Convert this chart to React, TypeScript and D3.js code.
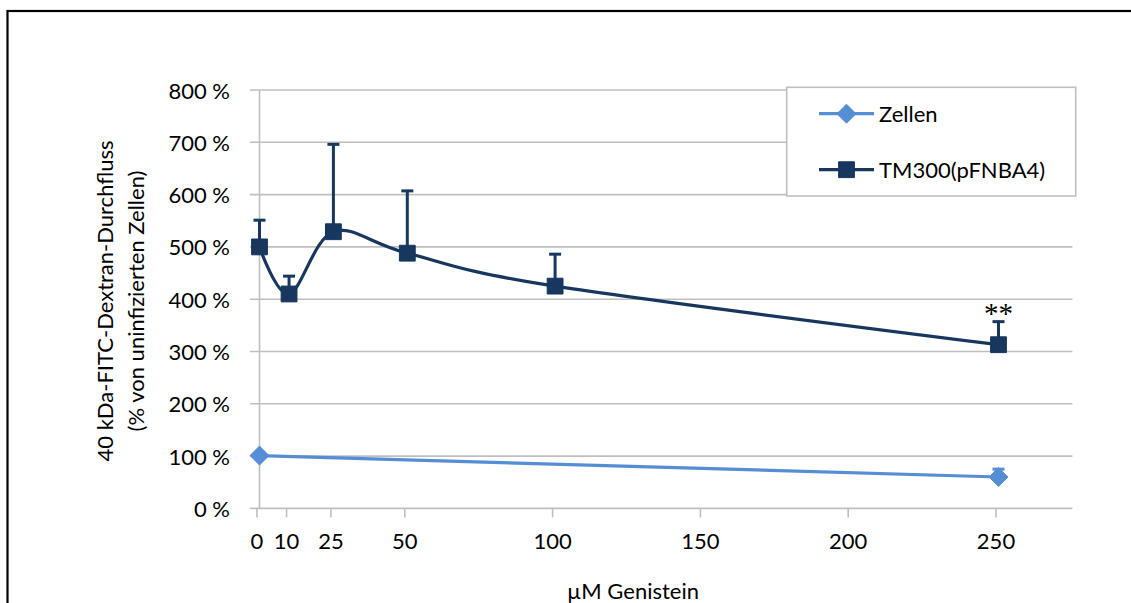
import { useEffect, useRef } from 'react';
import * as d3 from 'd3';

// concentrations (µM Genistein)
const tmDose = [0, 10, 25, 50, 100, 250];
const tmMean = [500, 410, 529, 488, 425, 313];
const tmErr = [53, 36, 169, 121, 63, 46];

const zDose = [0, 250];
const zMean = [101, 60];
const zErr = [4, 17];

const xTicks = [0, 10, 25, 50, 100, 150, 200, 250];
const yTicks = [0, 100, 200, 300, 400, 500, 600, 700, 800];

const series = [
  { name: 'Zellen', color: '#558ed5', shape: 'diamond', dose: zDose, mean: zMean, err: zErr, smooth: false },
  { name: 'TM300(pFNBA4)', color: '#17375e', shape: 'square', dose: tmDose, mean: tmMean, err: tmErr, smooth: true },
];

const FONT = 'Lato, "Open Sans", sans-serif';

function markerPath(shape: string) {
  return shape === 'square'
    ? d3.symbol(d3.symbolSquare, 250)()
    : d3.symbol(d3.symbolDiamond2, 230)();
}

function App() {
  const ref = useRef<SVGSVGElement | null>(null);

  useEffect(() => {
    const svg = d3.select(ref.current);
    svg.selectAll('*').remove();

    const x = d3.scaleLinear().domain([0, 250]).range([259.5, 998.5]);
    const y = d3.scaleLinear().domain([0, 800]).range([508.4, 90]);
    const xEnd = x(275);
    const grid = '#bfbfbf';

    // outer frame
    svg.append('rect')
      .attr('x', 7.5).attr('y', 11)
      .attr('width', 1140).attr('height', 620)
      .attr('fill', 'none').attr('stroke', '#000').attr('stroke-width', 2.2);

    // horizontal gridlines (+ y ticks)
    svg.append('g').selectAll('line').data(yTicks).join('line')
      .attr('x1', x(0) - 9.5).attr('x2', xEnd)
      .attr('y1', d => y(d)).attr('y2', d => y(d))
      .attr('stroke', grid).attr('stroke-width', 1.6);

    // y axis line
    svg.append('line')
      .attr('x1', x(0)).attr('x2', x(0))
      .attr('y1', y(800)).attr('y2', y(0))
      .attr('stroke', grid).attr('stroke-width', 1.6);

    // x ticks
    svg.append('g').selectAll('line').data(xTicks).join('line')
      .attr('x1', d => x(d) - 2.5).attr('x2', d => x(d) - 2.5)
      .attr('y1', y(0)).attr('y2', y(0) + 9)
      .attr('stroke', grid).attr('stroke-width', 1.6);

    // y tick labels
    svg.append('g').selectAll('text').data(yTicks).join('text')
      .attr('x', 230).attr('y', d => y(d) + 8.5)
      .attr('text-anchor', 'end')
      .attr('font-family', FONT).attr('font-size', 22).attr('fill', '#000')
      .text(d => `${d} %`);

    // x tick labels
    svg.append('g').selectAll('text').data(xTicks).join('text')
      .attr('x', d => x(d) - 2.5).attr('y', 549)
      .attr('text-anchor', 'middle')
      .attr('font-family', FONT).attr('font-size', 22).attr('fill', '#000')
      .text(d => String(d));

    // axis titles
    svg.append('text')
      .attr('x', 633).attr('y', 599)
      .attr('text-anchor', 'middle')
      .attr('font-family', FONT).attr('font-size', 22)
      .text('µM Genistein');

    const yt = svg.append('text')
      .attr('transform', 'translate(0,301) rotate(-90)')
      .attr('text-anchor', 'middle')
      .attr('font-family', FONT).attr('font-size', 22);
    yt.append('tspan').attr('x', 0).attr('y', 113).text('40 kDa-FITC-Dextran-Durchfluss');
    yt.append('tspan').attr('x', 0).attr('y', 144).text('(% von uninfizierten Zellen)');

    // series
    series.forEach(s => {
      const g = svg.append('g');
      const pts = s.dose.map((d, i) => [x(d), y(s.mean[i])] as [number, number]);

      // error bars (upper only)
      s.dose.forEach((d, i) => {
        const top = y(s.mean[i] + s.err[i]);
        g.append('line')
          .attr('x1', x(d)).attr('x2', x(d))
          .attr('y1', y(s.mean[i])).attr('y2', top)
          .attr('stroke', s.color).attr('stroke-width', 3);
        g.append('line')
          .attr('x1', x(d) - 6).attr('x2', x(d) + 6)
          .attr('y1', top + 1).attr('y2', top + 1)
          .attr('stroke', s.color).attr('stroke-width', 3);
      });

      const line = d3.line()
        .curve(s.smooth ? d3.curveCardinal.tension(0) : d3.curveLinear);
      g.append('path')
        .attr('d', line(pts))
        .attr('fill', 'none').attr('stroke', s.color).attr('stroke-width', 3.2);

      g.selectAll('path.m').data(pts).join('path')
        .attr('class', 'm')
        .attr('transform', p => `translate(${p[0]},${p[1]})`)
        .attr('d', markerPath(s.shape))
        .attr('fill', s.color)
        .attr('stroke', s.color).attr('stroke-width', 1).attr('stroke-linejoin', 'round');
    });

    // significance mark
    svg.append('text')
      .attr('x', x(250)).attr('y', y(tmMean[5] + tmErr[5]) + 2)
      .attr('text-anchor', 'middle')
      .attr('font-family', '"Liberation Serif", serif').attr('font-size', 29)
      .text('**');

    // legend
    const lg = svg.append('g');
    lg.append('rect')
      .attr('x', 786.7).attr('y', 87.3)
      .attr('width', 289).attr('height', 108.7)
      .attr('fill', '#fff').attr('stroke', grid).attr('stroke-width', 1.6);
    series.forEach((s, i) => {
      const cy = 113.7 + i * 56;
      lg.append('line')
        .attr('x1', 819).attr('x2', 874).attr('y1', cy).attr('y2', cy)
        .attr('stroke', s.color).attr('stroke-width', 3.2);
      lg.append('path')
        .attr('transform', `translate(846.5,${cy})`)
        .attr('d', markerPath(s.shape))
        .attr('fill', s.color)
        .attr('stroke', s.color).attr('stroke-width', 1).attr('stroke-linejoin', 'round');
      lg.append('text')
        .attr('x', 879).attr('y', cy + 8)
        .attr('font-family', FONT).attr('font-size', 22)
        .text(s.name);
    });
  }, []);

  return (
    <div style={{ position: 'fixed', left: 0, top: 0 }}>
      <svg ref={ref} width={1131} height={603} style={{ display: 'block', background: '#fff' }} />
    </div>
  );
}

export default App;
